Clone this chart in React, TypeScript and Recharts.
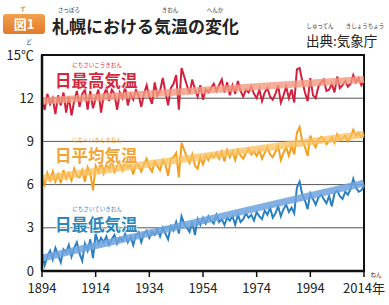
import { LineChart, Line, XAxis, YAxis, CartesianGrid, ReferenceArea } from "recharts";

// 1894〜2014年（札幌）の年平均値
const years = Array.from({ length: 121 }, (_, i) => 1894 + i);

const maxTemp = [
  11.9, 11.2, 12.3, 11.6, 12.0, 10.9, 12.2, 11.5, 12.4, 11.0,
  12.1, 10.8, 11.8, 12.5, 11.4, 12.3, 12.6, 11.2, 12.5, 11.3,
  12.0, 12.6, 11.0, 12.2, 12.7, 11.8, 12.6, 12.3, 11.2, 12.4,
  12.0, 12.8, 11.5, 12.3, 11.9, 12.6, 12.2, 11.4, 12.3, 12.9,
  12.1, 11.6, 13.1, 12.2, 12.5, 13.4, 12.4, 11.5, 12.7, 13.0,
  13.6, 11.2, 14.1, 13.5, 12.9, 12.3, 13.3, 12.6, 12.1, 12.9,
  11.9, 12.6, 12.4, 12.7, 13.0, 12.5, 12.9, 13.3, 12.4, 13.1,
  12.2, 12.9, 12.3, 13.2, 12.5, 12.1, 12.6, 12.4, 12.8, 12.3,
  12.0, 12.6, 11.8, 12.4, 12.7, 12.1, 11.9, 12.3, 12.9, 11.7,
  12.2, 12.8, 12.0, 12.6, 11.7, 14.0, 14.1, 13.2, 12.4, 11.8,
  13.4, 12.2, 12.0, 12.8, 13.1, 13.3, 12.5, 12.6, 13.0, 12.4,
  13.5, 12.7, 12.9, 13.2, 12.8, 13.0, 13.6, 13.1, 13.4, 12.9,
  13.2,
];

const meanTemp = [
  6.6, 6.0, 6.8, 6.3, 6.9, 6.2, 6.7, 6.1, 7.0, 6.4,
  6.8, 6.3, 7.1, 6.6, 6.5, 7.0, 6.2, 7.2, 6.8, 5.6,
  7.3, 6.9, 7.6, 6.8, 7.4, 7.1, 7.7, 6.9, 7.3, 7.5,
  7.0, 7.6, 7.2, 7.4, 6.7, 7.5, 7.3, 6.9, 7.4, 7.8,
  7.2, 6.9, 7.6, 7.3, 7.0, 7.7, 7.4, 6.6, 7.8, 7.9,
  8.2, 6.5, 8.9, 8.4, 7.9, 7.5, 8.1, 7.3, 7.1, 7.9,
  7.4, 8.0, 7.7, 8.1, 7.9, 8.2, 7.8, 8.3, 7.6, 8.4,
  7.9, 8.3, 7.7, 8.4, 8.0, 7.8, 8.2, 8.5, 8.1, 8.3,
  8.0, 8.4, 7.8, 8.2, 8.6, 8.1, 7.9, 8.3, 8.7, 7.7,
  8.2, 8.6, 8.0, 8.7, 8.1, 9.6, 10.0, 9.0, 8.6, 8.0,
  9.4, 8.9, 8.6, 9.1, 9.3, 9.2, 8.8, 9.0, 9.3, 8.9,
  9.5, 9.1, 9.2, 9.4, 9.0, 9.3, 9.8, 9.4, 9.6, 9.3,
  9.5,
];

const minTemp = [
  1.2, 0.4, 1.0, 1.4, 0.8, 1.6, 1.1, 0.6, 1.5, 1.3,
  1.8, 1.0, 1.6, 2.0, 1.2, 0.7, 1.9, 1.4, 2.2, 0.9,
  2.6, 1.9, 2.3, 2.0, 2.4, 1.8, 2.2, 2.5, 1.9, 2.3,
  2.1, 2.6, 2.0, 2.4, 1.8, 2.5, 2.7, 2.0, 2.6, 2.8,
  2.3, 2.7, 2.5, 2.9, 2.4, 3.0, 2.6, 2.2, 3.1, 2.8,
  3.4, 2.6, 3.8, 3.3, 3.0, 2.7, 3.4, 2.5, 3.6, 3.2,
  3.7, 3.3, 3.8, 3.5, 3.3, 3.9, 3.4, 3.6, 3.2, 3.7,
  3.5, 3.8, 3.2, 3.9, 3.4, 3.6, 4.0, 3.7, 3.9, 3.5,
  4.1, 3.8, 3.6, 4.2, 3.9, 4.4, 3.7, 4.0, 4.5, 3.8,
  4.3, 4.6, 4.1, 4.4, 4.0, 5.8, 6.2, 5.3, 4.9, 4.3,
  5.4, 5.0, 4.6, 5.1, 5.3, 5.0, 4.7, 5.2, 4.5, 5.4,
  5.6, 5.2, 5.0, 5.5, 5.3, 5.7, 6.4, 5.8, 5.5, 5.6,
  5.9,
];

// 傾向線（1894年と2014年の値）
const maxTrend = [11.8, 13.3];
const meanTrend = [6.4, 9.5];
const minTrend = [0.9, 6.1];

const yTicks = [0, 3, 6, 9, 12, 15];
const xTicks = [1894, 1914, 1934, 1954, 1974, 1994, 2014];

const last = years.length - 1;
const data = years.map((year, i) => ({
  year,
  max: maxTemp[i],
  mean: meanTemp[i],
  min: minTemp[i],
  maxT: i === 0 ? maxTrend[0] : i === last ? maxTrend[1] : null,
  meanT: i === 0 ? meanTrend[0] : i === last ? meanTrend[1] : null,
  minT: i === 0 ? minTrend[0] : i === last ? minTrend[1] : null,
}));

const font = '"Noto Sans CJK JP", sans-serif';

const Ruby = ({ x, y, w, text, color = "#333" }: any) => (
  <div
    style={{
      position: "absolute",
      left: x,
      top: y,
      width: w,
      fontSize: 5.5,
      lineHeight: "6px",
      color,
      textAlign: "center",
      whiteSpace: "nowrap",
    }}
  >
    {text}
  </div>
);

const SeriesLabel = ({ x, y, text, ruby, color }: any) => (
  <>
    <Ruby x={x} y={y - 10} w={84} text={ruby} color={color} />
    <div
      style={{
        position: "absolute",
        left: x,
        top: y,
        fontSize: 16.5,
        lineHeight: "17px",
        fontWeight: 700,
        color,
        textShadow: "0 0 2px #fff, 0 0 2px #fff, 0 0 2px #fff",
        whiteSpace: "nowrap",
      }}
    >
      {text}
    </div>
  </>
);

export default function App() {
  return (
    <div
      style={{
        position: "absolute",
        left: 0,
        top: 0,
        width: 389,
        height: 305,
        background: "#fff",
        fontFamily: font,
        overflow: "hidden",
      }}
    >
      <LineChart
        width={389}
        height={305}
        data={data}
        margin={{ top: 55, right: 25, left: 0, bottom: 0 }}
      >
        <CartesianGrid horizontal vertical={false} stroke="#555" strokeWidth={1} />
        <XAxis
          dataKey="year"
          type="number"
          domain={[1894, 2014]}
          ticks={xTicks}
          tickFormatter={(v: number) => (v === 2014 ? "2014年" : String(v))}
          height={34}
          tickSize={6}
          tickMargin={7}
          axisLine={{ stroke: "#111", strokeWidth: 2.5 }}
          tickLine={{ stroke: "#111", strokeWidth: 1.5 }}
          tick={{ fontSize: 13, fill: "#222", fontFamily: font }}
          interval={0}
        />
        <YAxis
          domain={[0, 15]}
          ticks={yTicks}
          width={42}
          tickSize={0}
          tickMargin={8}
          tickFormatter={(v: number) => (v === 15 ? "15℃" : String(v))}
          axisLine={{ stroke: "#111", strokeWidth: 2.5 }}
          tick={{ fontSize: 13, fill: "#222", fontFamily: font }}
          interval={0}
        />
        <ReferenceArea
          x1={1894}
          x2={2014}
          y1={0}
          y2={15}
          fill="none"
          stroke="#111"
          strokeWidth={2}
          ifOverflow="visible"
        />
        <Line dataKey="max" stroke="#d3203c" strokeWidth={2} dot={false} isAnimationActive={false} />
        <Line dataKey="mean" stroke="#f3a020" strokeWidth={2} dot={false} isAnimationActive={false} />
        <Line dataKey="min" stroke="#2c80bd" strokeWidth={2} dot={false} isAnimationActive={false} />
        <Line dataKey="maxT" stroke="#f29a80" strokeOpacity={0.8} strokeWidth={7} dot={false} connectNulls isAnimationActive={false} />
        <Line dataKey="meanT" stroke="#f9c05e" strokeOpacity={0.75} strokeWidth={7} dot={false} connectNulls isAnimationActive={false} />
        <Line dataKey="minT" stroke="#6ea3de" strokeOpacity={0.85} strokeWidth={7} dot={false} connectNulls isAnimationActive={false} />
      </LineChart>

      {/* 見出し */}
      <div
        style={{
          position: "absolute",
          left: 3,
          top: 14,
          width: 42,
          height: 20,
          background: "linear-gradient(#f2a04e, #e27a2a)",
          borderRadius: 3,
          color: "#fff",
          fontSize: 13,
          fontWeight: 700,
          lineHeight: "20px",
          textAlign: "center",
        }}
      >
        図1
      </div>
      <Ruby x={13} y={6} w={20} text="ず" color="#e27a2a" />
      <Ruby x={53} y={7} w={32} text="さっぽろ" />
      <Ruby x={154} y={7} w={32} text="きおん" />
      <Ruby x={199} y={7} w={32} text="へんか" />
      <div
        style={{
          position: "absolute",
          left: 52,
          top: 16,
          fontSize: 17,
          lineHeight: "20px",
          fontWeight: 700,
          color: "#222",
          whiteSpace: "nowrap",
        }}
      >
        札幌における気温の変化
      </div>
      <Ruby x={306} y={23} w={28} text="しゅってん" />
      <Ruby x={344} y={23} w={42} text="きしょうちょう" />
      <div
        style={{
          position: "absolute",
          left: 306,
          top: 33,
          fontSize: 13.5,
          lineHeight: "15px",
          color: "#222",
          whiteSpace: "nowrap",
        }}
      >
        出典:気象庁
      </div>
      <Ruby x={24} y={39} w={10} text="ど" />
      <Ruby x={368} y={272} w={16} text="ねん" />

      <SeriesLabel x={55} y={72} text="日最高気温" ruby="にちさいこうきおん" color="#d3283e" />
      <SeriesLabel x={55} y={147} text="日平均気温" ruby="にちへいきんきおん" color="#f2a436" />
      <SeriesLabel x={55} y={216} text="日最低気温" ruby="にちさいていきおん" color="#2f86b6" />
    </div>
  );
}
